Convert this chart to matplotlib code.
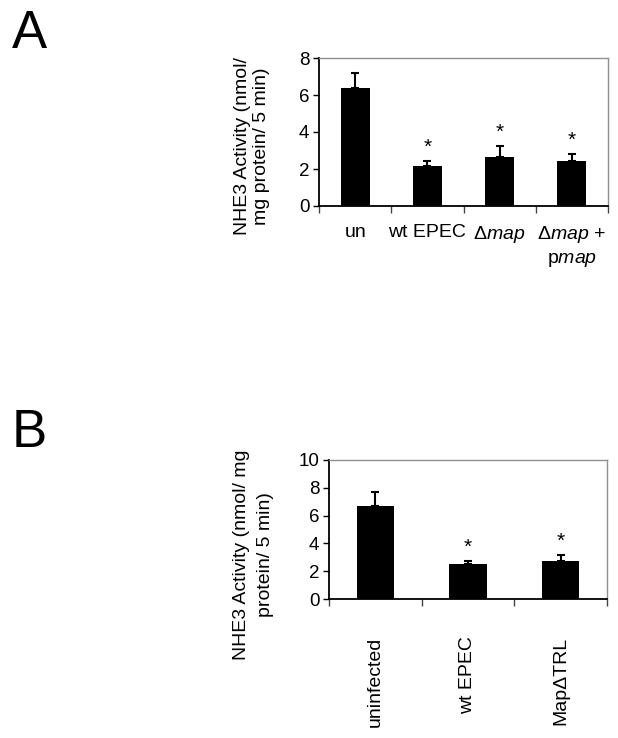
import matplotlib
matplotlib.use("Agg")
import matplotlib.pyplot as plt
import numpy as np

plt.rcParams['font.family'] = ['Liberation Sans', 'DejaVu Sans']
plt.rcParams['mathtext.fontset'] = 'custom'
plt.rcParams['mathtext.rm'] = 'Liberation Sans'
plt.rcParams['mathtext.it'] = 'Liberation Sans:italic'

# Panel A data
a_labels = ["un", "wt EPEC", r"Δ$\mathit{map}$", "Δ$\\mathit{map}$ +\np$\\mathit{map}$"]
a_vals = [6.39, 2.16, 2.63, 2.45]
a_err = [0.80, 0.27, 0.61, 0.36]
a_sig = [False, True, True, True]
a_yticks = [0, 2, 4, 6, 8]

# Panel B data
b_labels = ["uninfected", "wt EPEC", "MapΔTRL"]
b_vals = [6.71, 2.52, 2.76]
b_err = [0.96, 0.21, 0.41]
b_sig = [False, True, True]
b_yticks = [0, 2, 4, 6, 8, 10]

FS = 14
TFS = 13.5
fig = plt.figure(figsize=(6.18, 7.38), dpi=100)


def panel(rect, labels, vals, err, sig, yticks, ylabel, lab_xy, lab_ls, rotate):
    ax = fig.add_axes(rect)
    n = len(vals)
    x = np.arange(n) + 0.5
    ax.bar(x, vals, width=0.4, color='black', zorder=2)
    ax.errorbar(x, vals, yerr=[np.zeros(n), err], fmt='none', ecolor='black',
                elinewidth=1.5, capsize=3, capthick=1.5, zorder=3)
    for xi, v, e, s in zip(x, vals, err, sig):
        if s:
            ax.annotate('*', (xi, v + e), xytext=(0, 3), textcoords='offset points',
                        ha='center', va='bottom', fontsize=FS + 1)
    ax.set_xlim(0, n)
    ax.set_ylim(yticks[0], yticks[-1])
    ax.set_yticks(yticks)
    ax.set_xticks(np.arange(n + 1))
    ax.set_xticklabels([])
    ax.set_xticks(x, minor=True)
    if rotate:
        ax.set_xticklabels(labels, minor=True, rotation=90, fontsize=FS,
                           va='top', ha='center')
        ax.tick_params(axis='x', which='minor', length=0, pad=27)
    else:
        ax.set_xticklabels(labels, minor=True, fontsize=FS, linespacing=1.35)
        ax.tick_params(axis='x', which='minor', length=0, pad=13)
    ax.tick_params(axis='x', which='major', length=5, width=1, color='#444444',
                   direction='out')
    ax.tick_params(axis='y', length=4, width=1, labelsize=TFS, pad=3)
    for s in ['top', 'right']:
        ax.spines[s].set_color('#909090')
        ax.spines[s].set_linewidth(1)
    for s in ['left', 'bottom']:
        ax.spines[s].set_color('black')
        ax.spines[s].set_linewidth(1.3)
    ax.set_ylabel(ylabel, fontsize=FS, linespacing=lab_ls, va='center')
    ax.yaxis.set_label_coords(*lab_xy)
    return ax


panel([319 / 618, 1 - 206 / 738, 289 / 618, 148 / 738], a_labels, a_vals, a_err,
      a_sig, a_yticks, "NHE3 Activity (nmol/\nmg protein/ 5 min)",
      (-0.232, 0.405), 1.1, False)
panel([329 / 618, 1 - 599 / 738, 278 / 618, 139 / 738], b_labels, b_vals, b_err,
      b_sig, b_yticks, "NHE3 Activity (nmol/ mg\nprotein/ 5 min)",
      (-0.273, 0.317), 1.55, True)

fig.text(12 / 618, 1 - 48 / 738, "A", fontsize=38, ha='left', va='baseline')
fig.text(12 / 618, 1 - 447 / 738, "B", fontsize=38, ha='left', va='baseline')

fig.savefig("out.png", dpi=100)
